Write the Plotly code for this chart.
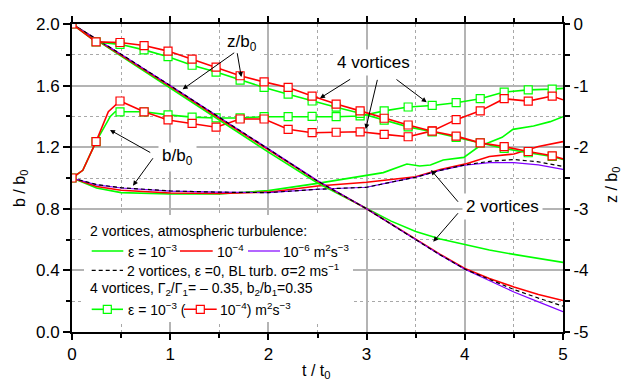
import plotly.graph_objects as go

# ---------------- data ----------------
# output times of the four-vortex runs (markers drawn at these times)
t_marks = [0.0, 0.245, 0.489, 0.734, 0.978, 1.223, 1.467, 1.712, 1.956, 2.201,
           2.445, 2.69, 2.934, 3.179, 3.423, 3.668, 3.912, 4.157, 4.401, 4.646, 4.89]

# four vortices: descent z/b0 (right axis)
t4z = t_marks + [5.0]
z4_e3 = [0, -0.29, -0.33, -0.42, -0.53, -0.67, -0.78, -0.91, -1.03, -1.14, -1.25,
         -1.35, -1.45, -1.56, -1.67, -1.75, -1.84, -1.93, -2.02, -2.09, -2.15, -2.20]
z4_e4 = [0, -0.29, -0.30, -0.35, -0.44, -0.57, -0.70, -0.84, -0.94, -1.03, -1.17,
         -1.30, -1.41, -1.53, -1.64, -1.74, -1.82, -1.93, -1.99, -2.07, -2.14, -2.19]

# four vortices: spacing b/b0 (left axis)
t4b_e3 = [0.0, 0.11, 0.245, 0.39, 0.44, 0.489, 0.734, 0.978, 1.223, 1.467, 1.712, 1.956,
          2.201, 2.445, 2.69, 2.934, 3.179, 3.423, 3.668, 3.912, 4.157, 4.401, 4.646,
          4.89, 5.0]
b4_e3 = [1.0, 1.05, 1.236, 1.40, 1.43, 1.43, 1.43, 1.41, 1.395, 1.39, 1.39, 1.398,
         1.398, 1.40, 1.398, 1.403, 1.436, 1.461, 1.471, 1.489, 1.515, 1.558, 1.572,
         1.577, 1.582]
t4b_e4 = [0.0, 0.11, 0.245, 0.37, 0.489, 0.734, 0.978, 1.223, 1.467, 1.712, 1.956,
          2.201, 2.445, 2.69, 2.934, 3.179, 3.423, 3.668, 3.912, 4.157, 4.401, 4.646,
          4.89, 5.0]
b4_e4 = [1.0, 1.05, 1.236, 1.43, 1.50, 1.43, 1.377, 1.355, 1.33, 1.383, 1.383, 1.316,
         1.294, 1.297, 1.30, 1.283, 1.268, 1.306, 1.379, 1.436, 1.515, 1.499, 1.532,
         1.508]

# two vortices: descent z/b0 (right axis)
t2z = [0, 0.5, 1, 1.5, 2, 2.5, 3, 3.25, 3.5, 3.75, 4, 4.25, 4.5, 4.75, 5]
z2_e3 = [0, -0.52, -1.04, -1.56, -2.08, -2.58, -3.00, -3.20, -3.37, -3.49, -3.58,
         -3.67, -3.74, -3.81, -3.87]
z2_e4 = [0, -0.50, -1.01, -1.53, -2.04, -2.55, -3.00, -3.25, -3.50, -3.74, -3.97,
         -4.13, -4.27, -4.39, -4.49]
z2_e6 = [0, -0.49, -1.00, -1.51, -2.02, -2.54, -3.00, -3.25, -3.50, -3.75, -3.98,
         -4.16, -4.35, -4.51, -4.67]
z2_bl = [0, -0.49, -1.00, -1.51, -2.03, -2.55, -3.00, -3.25, -3.50, -3.75, -3.98,
         -4.14, -4.31, -4.45, -4.58]

# two vortices: spacing b/b0 (left axis)
t2b = [0, 0.25, 0.5, 1, 1.5, 2, 2.5, 3, 3.25, 3.5, 3.75, 4, 4.25, 4.5, 4.75, 5]
b2_e4 = [1.0, 0.945, 0.92, 0.903, 0.90, 0.908, 0.948, 0.972, 0.99, 1.008, 1.055,
         1.09, 1.14, 1.156, 1.205, 1.236]
b2_e6 = [1.0, 0.955, 0.935, 0.915, 0.908, 0.905, 0.927, 0.94, 0.973, 1.005, 1.05,
         1.083, 1.10, 1.10, 1.085, 1.056]
b2_bl = [1.0, 0.958, 0.937, 0.916, 0.908, 0.905, 0.927, 0.94, 0.973, 1.005, 1.05,
         1.085, 1.108, 1.12, 1.105, 1.075]
t2b_e3 = [0, 0.25, 0.5, 1, 1.5, 2, 2.5, 2.93, 3.17, 3.41, 3.54, 3.65, 3.78, 3.99,
          4.14, 4.38, 4.49, 4.70, 4.87, 5.0]
b2_e3 = [1.0, 0.935, 0.905, 0.896, 0.896, 0.918, 0.965, 1.009, 1.035, 1.091, 1.078,
         1.084, 1.117, 1.134, 1.203, 1.264, 1.316, 1.338, 1.366, 1.398]

x_ticks = [0, 1, 2, 3, 4, 5]
b_ticks = [0.0, 0.4, 0.8, 1.2, 1.6, 2.0]
z_ticks = [0, -1, -2, -3, -4, -5]
z_ticklabels = ["0", "-1", "-2", "-3", "-4", "-5"]

# ---------------- styling ----------------
GREEN = "#00FF00"
RED = "#FF0000"
PURPLE = "#8000FF"
FONT = "Liberation Sans, Arial, sans-serif"
W, H = 622, 383
L, R, T, B = 72, 59, 24, 51
PW, PH = W - L - R, H - T - B

fig = go.Figure()


def line(t, v, color, width=1.6, dash="solid", axis="y"):
    fig.add_trace(go.Scatter(x=t, y=v, mode="lines", yaxis=axis, showlegend=False,
                             line=dict(color=color, width=width, dash=dash),
                             hoverinfo="skip"))


def marked(t, v, color, axis="y"):
    marks = set(t_marks)
    fig.add_trace(go.Scatter(
        x=t, y=v, mode="lines+markers", yaxis=axis, showlegend=False,
        line=dict(color=color, width=1.6),
        marker=dict(symbol="square", size=8, color="white",
                    line=dict(color=color, width=1.2),
                    opacity=[1 if tt in marks else 0 for tt in t]),
        hoverinfo="skip"))


# two-vortex curves
line(t2b_e3, b2_e3, GREEN)
line(t2b, b2_e4, RED)
line(t2b, b2_e6, PURPLE, width=1.2)
line(t2b, b2_bl, "black", width=1.2, dash="4px,3px")
line(t2z, z2_e3, GREEN, axis="y2")
line(t2z, z2_e4, RED, axis="y2")
line(t2z, z2_e6, PURPLE, width=1.2, axis="y2")
line(t2z, z2_bl, "black", width=1.2, dash="4px,3px", axis="y2")

# four-vortex curves
marked(t4b_e3, b4_e3, GREEN)
marked(t4b_e4, b4_e4, RED)
marked(t4z, z4_e3, GREEN, axis="y2")
marked(t4z, z4_e4, RED, axis="y2")

GRID = "#b4b4b4"
MINOR_GRID = "#a8a8a8"

fig.update_layout(
    width=W, height=H, autosize=False,
    margin=dict(l=L, r=R, t=T, b=B, pad=0),
    paper_bgcolor="white", plot_bgcolor="white",
    font=dict(family=FONT, size=17, color="black"),
    xaxis=dict(range=[0, 5], tickvals=x_ticks, ticks="outside", ticklen=6, tickwidth=1.5,
               tickcolor="black", showline=True, linecolor="black", linewidth=2,
               mirror="ticks", zeroline=False, showgrid=True, gridcolor=GRID,
               gridwidth=1.5,
               minor=dict(dtick=0.5, ticks="outside", ticklen=4, tickwidth=1.5,
                          tickcolor="black", showgrid=True, gridcolor=MINOR_GRID,
                          griddash="dot", gridwidth=1)),
    yaxis=dict(range=[0, 2], tickvals=b_ticks, tickformat=".1f", ticks="outside",
               ticklen=7, tickwidth=1.5, tickcolor="black", showline=True,
               linecolor="black", linewidth=2, zeroline=False, showgrid=True,
               gridcolor=GRID, gridwidth=1.5,
               minor=dict(dtick=0.2, ticks="outside", ticklen=4, tickwidth=1.5,
                          tickcolor="black", showgrid=True, gridcolor=MINOR_GRID,
                          griddash="dot", gridwidth=1)),
    yaxis2=dict(range=[-5, 0], overlaying="y", side="right", tickvals=z_ticks,
                ticktext=z_ticklabels, ticks="outside", ticklen=5, tickwidth=1.5,
                tickcolor="black", showline=True, linecolor="black", linewidth=2,
                zeroline=False, showgrid=False,
                minor=dict(dtick=0.5, ticks="outside", ticklen=5, tickwidth=1.5,
                           tickcolor="black", showgrid=False)),
)


def px(xp):
    return (xp - L) / PW


def py(yp):
    return (H - B - yp) / PH


annotations = []
shapes = []

# axis titles
annotations += [
    dict(text="b / b<sub>0</sub>", x=px(20), y=py(189), xref="paper", yref="paper",
         xanchor="center", yanchor="middle", showarrow=False, textangle=-90,
         font=dict(size=16)),
    dict(text="z / b<sub>0</sub>", x=px(612), y=py(185), xref="paper", yref="paper",
         xanchor="center", yanchor="middle", showarrow=False, textangle=-90,
         font=dict(size=16)),
    dict(text="t / t<sub>0</sub>", x=px(316), y=py(371), xref="paper", yref="paper",
         xanchor="center", yanchor="middle", showarrow=False, font=dict(size=16)),
]

# curve labels with arrows (positions in t, b/b0)
labels = [
    ("z/b<sub>0</sub>", 1.731, 1.877),
    ("4 vortices", 3.075, 1.753),
    ("b/b<sub>0</sub>", 1.072, 1.136),
    ("2 vortices", 4.384, 0.814),
]
for text, x, y in labels:
    annotations.append(dict(text=text, x=x, y=y, xref="x", yref="y", showarrow=False,
                            xanchor="center", yanchor="middle",
                            bgcolor="white", borderpad=3, font=dict(size=17)))

arrows = [  # (tail t, tail b, head t, head b)
    (1.667, 1.820, 1.127, 1.576), (1.680, 1.820, 1.724, 1.656),
    (2.848, 1.647, 2.525, 1.518), (3.113, 1.647, 2.991, 1.318),
    (3.289, 1.647, 3.612, 1.492),
    (0.812, 1.160, 0.387, 1.312), (0.835, 1.138, 0.621, 0.950),
    (3.944, 0.836, 3.656, 1.052), (3.944, 0.781, 3.679, 0.586),
]
for ax_, ay_, x, y in arrows:
    annotations.append(dict(text="", x=x, y=y, ax=ax_, ay=ay_, xref="x", yref="y",
                            axref="x", ayref="y", showarrow=True, arrowhead=2,
                            arrowsize=1, arrowwidth=1, arrowcolor="black"))

# legend block
shapes.append(dict(type="rect", xref="paper", yref="paper", x0=px(84), x1=px(353),
                   y0=py(322), y1=py(215), fillcolor="white", line=dict(width=0),
                   layer="above"))


def key_line(x0, x1, yp, color, width=1.6, dash="solid"):
    shapes.append(dict(type="line", xref="paper", yref="paper", x0=px(x0), x1=px(x1),
                       y0=py(yp), y1=py(yp), line=dict(color=color, width=width,
                                                       dash=dash), layer="above"))


def key_square(xc, yp, color):
    shapes.append(dict(type="rect", xref="paper", yref="paper", xsizemode="pixel",
                       ysizemode="pixel", xanchor=px(xc), yanchor=py(yp),
                       x0=-4, x1=4, y0=-4, y1=4, fillcolor="white",
                       line=dict(color=color, width=1.2), layer="above"))


def key_text(xp, yp, text):
    annotations.append(dict(text=text, x=px(xp), y=py(yp), xref="paper", yref="paper",
                            xanchor="left", yanchor="middle", showarrow=False,
                            font=dict(size=14)))


key_text(88, 230.7, "2 vortices, atmospheric turbulence:")
key_line(91.7, 123.3, 251, GREEN)
key_text(126, 251, "ε = 10<sup>−3</sup>")
key_line(180, 212.7, 251, RED)
key_text(215, 251, "10<sup>−4</sup>")
key_line(248, 280, 251, PURPLE, width=1.2)
key_text(281, 251, "10<sup>−6</sup> m<sup>2</sup>s<sup>−3</sup>")
key_line(91.7, 123, 270.3, "black", width=1.2, dash="4px,3px")
key_text(125, 270.3, "2 vortices, ε =0, BL turb. σ=2 ms<sup>−1</sup>")
key_text(88, 289, "4 vortices, Γ<sub>2</sub>/Γ<sub>1</sub>= – 0.35, b<sub>2</sub>/b<sub>1</sub>=0.35")
key_line(91.7, 123, 309.3, GREEN)
key_square(107.3, 309.3, GREEN)
key_text(126, 309.3, "ε = 10<sup>−3</sup> (")
key_line(184, 216.7, 309.3, RED)
key_square(200.3, 309.3, RED)
key_text(218, 309.3, "10<sup>−4</sup>) m<sup>2</sup>s<sup>−3</sup>")

fig.update_layout(annotations=annotations, shapes=shapes)

fig.write_html("out.html")
